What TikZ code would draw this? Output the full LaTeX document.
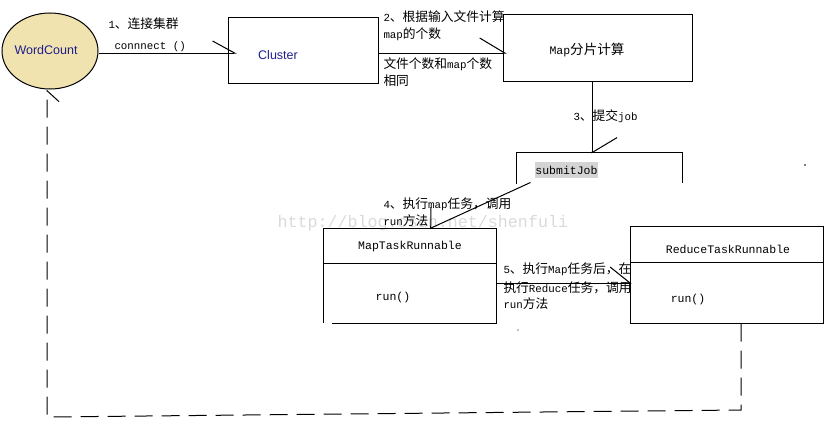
\documentclass[tikz,border=0pt]{standalone}
\usepackage{fontspec}
\usetikzlibrary{arrows.meta,shapes.geometric}
\setmainfont{Liberation Mono}
\newfontfamily\zhfont[Scale=1.18]{Noto Sans CJK SC}
\newfontfamily\uifont{Liberation Sans}
\newcommand\zh[1]{{\zhfont #1}}
\definecolor{wcfill}{RGB}{240,227,176}
\definecolor{wcblue}{RGB}{30,30,140}
\definecolor{hl}{RGB}{212,212,212}
\definecolor{wm}{RGB}{218,218,218}
\tikzset{
  lbl/.style={anchor=base west, inner sep=0pt, font=\fontsize{10.8}{13}\selectfont},
  boxtxt/.style={inner sep=0pt, font=\fontsize{11.5}{13}\selectfont},
  uitxt/.style={inner sep=0pt, text=wcblue, font=\uifont\fontsize{12.5}{14}\selectfont},
  box/.style={draw, inner sep=0pt},
  frame/.style={inner sep=0pt},
  conn/.style={line width=1pt},
  dashconn/.style={line width=1pt, dash pattern=on 18pt off 9pt},
}
\begin{document}
\begin{tikzpicture}[x=1pt,y=-1pt,line width=1pt]
\useasboundingbox (0,0) rectangle (831,423);
% watermark
\node[anchor=base west, inner sep=0pt, text=wm, font=\fontsize{16.7}{18}\selectfont] (wmk) at (277,227) {http://blog.csdn.net/shenfuli};
% nodes
\node[ellipse, draw, fill=wcfill, minimum width=96pt, minimum height=76pt, inner sep=0pt] (wc) at (50,51) {};
\node[uitxt] (wct) at (46,50) {WordCount};
\node[box, minimum width=150pt, minimum height=66pt] (cl) at (303,50) {};
\node[uitxt] (clt) at (278,55) {Cluster};
\node[box, minimum width=189pt, minimum height=67pt] (map) at (597.5,47.5) {};
\node[boxtxt] (mapt) at (587,50) {Map\zh{分片计算}};
\node[frame, minimum width=165pt, minimum height=29pt] (sj) at (599.5,167.5) {};
\draw ([yshift=-1pt]sj.south west) -- (sj.north west) -- (sj.north east) -- (sj.south east);
\node[boxtxt, fill=hl, inner xsep=0.5pt, minimum height=16pt] (sjt) at (566.5,170) {submitJob};
\node[frame, minimum width=172pt, minimum height=94pt] (mt) at (410,276) {};
\draw ([yshift=1pt]mt.south west) -- (mt.north west) -- (mt.north east) -- (mt.south east) -- ([xshift=8pt]mt.south west);
\draw ([yshift=-35pt]mt.north west) -- ([yshift=-35pt]mt.north east);
\node[boxtxt] (mtt) at (410,247) {MapTaskRunnable};
\node[boxtxt] (mtr) at (393,298) {run()};
\node[box, minimum width=193pt, minimum height=97pt] (rd) at (726.5,274.5) {};
\draw ([yshift=-37pt]rd.north west) -- ([yshift=-37pt]rd.north east);
\node[boxtxt] (rdt) at (728,249) {ReduceTaskRunnable};
\node[boxtxt] (rdr) at (688,300) {run()};
\coordinate (c1) at (741,410);
\coordinate (c2) at (47,417);
% connectors
\draw[conn, -{Straight Barb[left,length=22pt,width=24pt]}] ([yshift=-2pt]wc.east) -- ([xshift=9pt,yshift=-3pt]cl.west);
\draw[conn, -{Straight Barb[left,length=25pt,width=30pt]}] ([yshift=-3pt]cl.east) -- ([xshift=4pt,yshift=-5.5pt]map.west);
\draw[conn, -{Straight Barb[left,length=15pt,width=50pt]}] ([xshift=-5.5pt]map.south) -- ([xshift=-7.5pt,yshift=-1pt]sj.north);
\draw[conn, -{Straight Barb[right,length=9pt,width=38pt]}] ([xshift=14pt]sj.south west) -- ([xshift=20pt]mt.north);
\draw[conn, -{Straight Barb[left,length=20pt,width=32pt]}] ([xshift=-1pt,yshift=-7pt]mt.east) -- ([xshift=2pt,yshift=-8.5pt]rd.west);
\draw[dashconn, -{Straight Barb[right,length=11pt,width=24pt]}] ([xshift=14.5pt]rd.south) -- (c1) -- (c2) -- ([xshift=-3pt]wc.south);
% labels
\node[lbl] (t1) at (108,28) {1\zh{、连接集群}};
\node[lbl] (t1b) at (114,49) {connnect ()};
\node[lbl] (t2a) at (383,21) {2\zh{、根据输入文件计算}};
\node[lbl] (t2b) at (383,38) {map\zh{的个数}};
\node[lbl] (t2c) at (383,68) {\zh{文件个数和}map\zh{个数}};
\node[lbl] (t2d) at (383,85) {\zh{相同}};
\node[lbl] (t3) at (573,120) {3\zh{、提交}job};
\node[lbl] (t4a) at (383,208) {4\zh{、执行}map\zh{任务，调用}};
\node[lbl] (t4b) at (383,225) {run\zh{方法}};
\node[lbl] (t5a) at (503,273) {5\zh{、执行}Map\zh{任务后，在}};
\node[lbl] (t5b) at (503,292) {\zh{执行}Reduce\zh{任务，调用}};
\node[lbl] (t5c) at (503,308) {run\zh{方法}};
% stray marks
\fill (805,165) circle (0.8pt);
\fill (518,330) circle (0.6pt);
\end{tikzpicture}
\end{document}
